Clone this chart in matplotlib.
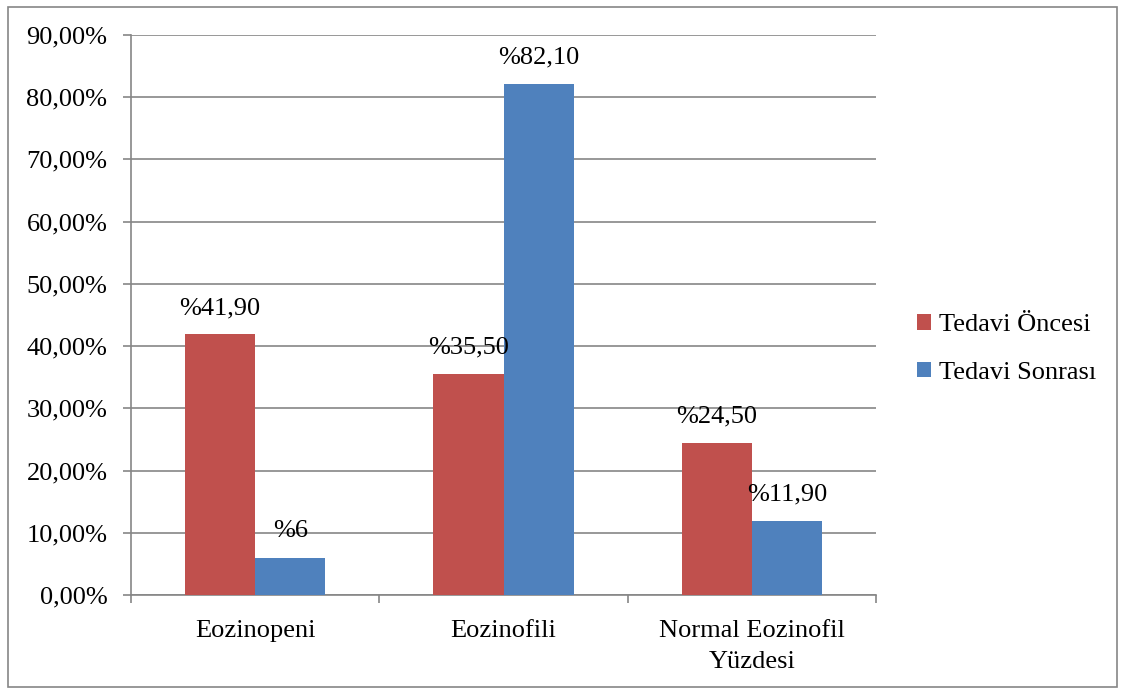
import numpy as np
import matplotlib.pyplot as plt
from matplotlib.patches import Rectangle

plt.rcParams['font.family'] = ['Liberation Serif', 'DejaVu Serif']

categories = ["Eozinopeni", "Eozinofili", "Normal Eozinofil\nYüzdesi"]
series_names = ["Tedavi Öncesi", "Tedavi Sonrası"]
oncesi = [41.90, 35.50, 24.50]
sonrasi = [6.0, 82.10, 11.90]
oncesi_labels = ["%41,90", "%35,50", "%24,50"]
sonrasi_labels = ["%6", "%82,10", "%11,90"]
yticks = np.arange(0, 91, 10)

red = "#C0504D"
blue = "#4F81BD"
gray = "#868686"
fs = 19

fig = plt.figure(figsize=(11.22, 6.89), dpi=100)
ax = fig.add_axes([131 / 1122, 1 - 595 / 689, 745 / 1122, 560 / 689])

x = np.arange(len(categories))
w = 0.282
b1 = ax.bar(x - w / 2, oncesi, w, color=red, label=series_names[0], zorder=3)
b2 = ax.bar(x + w / 2, sonrasi, w, color=blue, label=series_names[1], zorder=3)

for bars, labels in ((b1, oncesi_labels), (b2, sonrasi_labels)):
    for rect, lab in zip(bars, labels):
        ax.annotate(lab, (rect.get_x() + rect.get_width() / 2, rect.get_height()),
                    xytext=(0, 11), textcoords="offset points",
                    ha="center", va="bottom", fontsize=fs, zorder=4)

ax.set_xlim(-0.5, 2.5)
ax.set_ylim(0, 90)
ax.set_yticks(yticks)
ax.set_yticklabels([f"{v:.2f}%".replace(".", ",") for v in yticks], fontsize=fs)
ax.yaxis.grid(True, color=gray, linewidth=1.2, zorder=0)

# category ticks sit on the group boundaries, labels in the middle
ax.set_xticks(np.arange(-0.5, 3, 1))
ax.set_xticklabels([])
ax.set_xticks(x, minor=True)
ax.set_xticklabels(categories, minor=True, fontsize=fs, linespacing=1.5)
ax.tick_params(axis="x", which="minor", length=0, pad=18)
ax.tick_params(axis="x", which="major", length=6, width=1.2, color=gray)
ax.tick_params(axis="y", length=6, width=1.2, color=gray, pad=11)

for side in ("top", "right"):
    ax.spines[side].set_visible(False)
for side in ("left", "bottom"):
    ax.spines[side].set_color(gray)
    ax.spines[side].set_linewidth(1.2)

leg = fig.legend(handles=[b1, b2], labels=series_names, loc="center left",
                 bbox_to_anchor=(893 / 1122, 1 - 349 / 689), frameon=False,
                 fontsize=fs, handlelength=0.55, handleheight=0.55,
                 handletextpad=0.3, labelspacing=0.95)

fig.patches.append(Rectangle((8 / 1122, 2 / 689), 1109 / 1122, 680 / 689,
                             transform=fig.transFigure, fill=False,
                             edgecolor=gray, linewidth=1.2))

fig.savefig("out.png", dpi=100)
